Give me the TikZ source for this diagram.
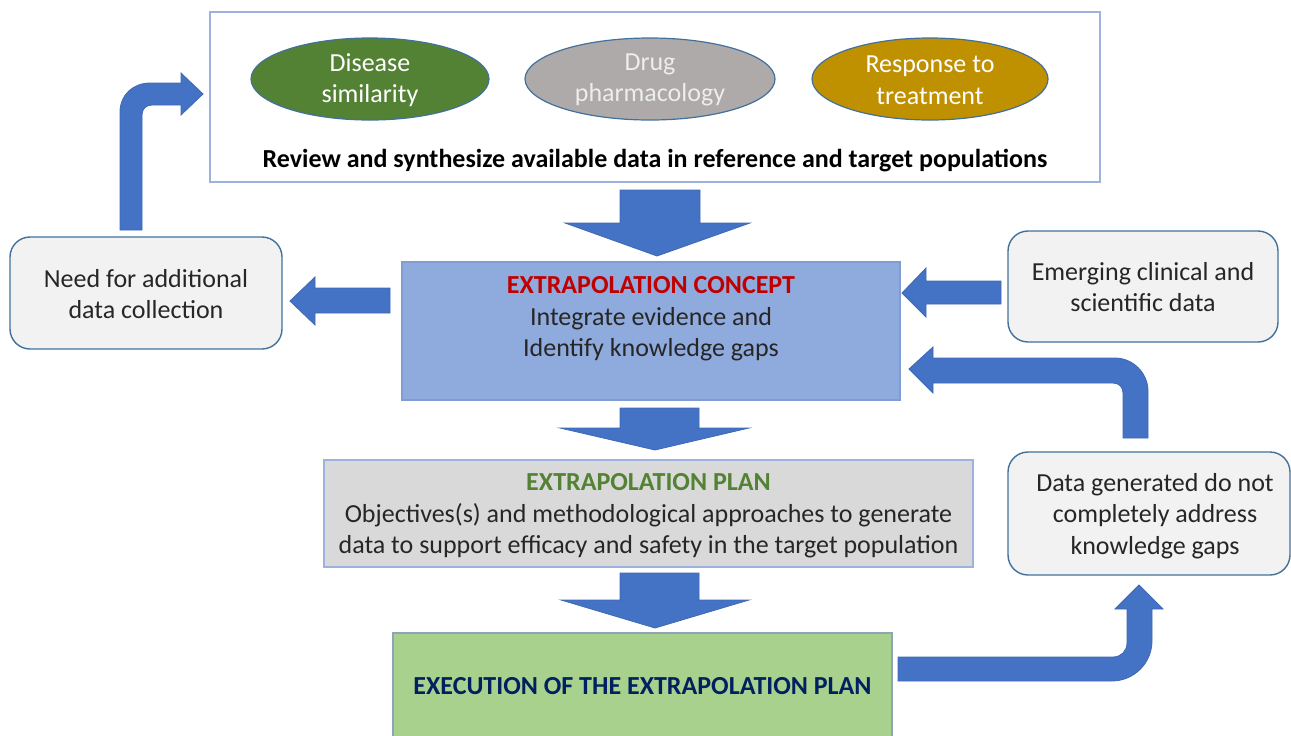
\documentclass[tikz,border=0pt]{standalone}
\usepackage{fontspec}
\setmainfont{Carlito}
\usetikzlibrary{shapes.geometric}
\definecolor{arrowblue}{HTML}{4472C4}
\definecolor{arrowedge}{HTML}{3F69B5}
\definecolor{outlineblue}{HTML}{41719C}
\definecolor{lightedge}{HTML}{9DB3DE}
\definecolor{conceptfill}{HTML}{8FAADC}
\definecolor{conceptedge}{HTML}{7F9DD3}
\definecolor{planfill}{HTML}{D9D9D9}
\definecolor{execfill}{HTML}{A9D18E}
\definecolor{execedge}{HTML}{8FA5B5}
\definecolor{softgray}{HTML}{F2F2F2}
\definecolor{diseasegreen}{HTML}{548235}
\definecolor{druggray}{HTML}{AEAAAA}
\definecolor{druglabel}{HTML}{EDEDED}
\definecolor{responsegold}{HTML}{BF9000}
\definecolor{titlered}{HTML}{C00000}
\definecolor{titlegreen}{HTML}{548235}
\definecolor{titlenavy}{HTML}{002060}
\begin{document}
\begin{tikzpicture}[x=0.5pt,y=-0.5pt,
  txt/.style={font=\fontsize{13}{15.75}\selectfont, align=center, inner sep=0pt},
  plainbox/.style={draw, rectangle, line width=0.6pt},
  roundbox/.style={draw=outlineblue, fill=softgray, rectangle, rounded corners=10pt, line width=0.7pt},
  oval/.style={ellipse, draw=outlineblue, line width=0.6pt, inner sep=0pt},
  blockarrow/.style={fill=arrowblue, draw=arrowedge, line width=0.4pt, line join=miter}
]
\useasboundingbox (0,0) rectangle (1291,735);

% top review box
\node[plainbox, draw=lightedge, minimum width=445pt, minimum height=85pt] (review) at (655,97) {};
\node[oval, fill=diseasegreen, minimum width=119pt, minimum height=41pt] (disease) at (370,79) {};
\node[txt, text=white] (diseasetext) at (370,80) {Disease\\similarity};
\node[oval, fill=druggray, minimum width=125pt, minimum height=41pt] (drug) at (650,79) {};
\node[txt, text=druglabel] (drugtext) at (650,80) {Drug\\pharmacology};
\node[oval, fill=responsegold, minimum width=118pt, minimum height=41pt] (response) at (930,79) {};
\node[txt, text=white] (responsetext) at (930,80) {Response to\\treatment};
\node[txt, font=\fontsize{13}{15.75}\selectfont\bfseries] (reviewtext) at (655,161) {Review and synthesize available data in reference and target populations};

% concept box
\node[plainbox, draw=conceptedge, fill=conceptfill, minimum width=249pt, minimum height=69pt] (concept) at (651,331) {};
\node[txt, text=black!85] (concepttext) at (651,319) {\textcolor{titlered}{\bfseries EXTRAPOLATION CONCEPT}\\Integrate evidence and\\Identify knowledge gaps};

% plan box
\node[plainbox, draw=lightedge, fill=planfill, minimum width=324.5pt, minimum height=53.5pt] (plan) at (648.5,513.5) {};
\node[txt, text=black!85] (plantext) at (648.5,516) {\textcolor{titlegreen}{\bfseries EXTRAPOLATION PLAN}\\Objectives(s) and methodological approaches to generate\\data to support efficacy and safety in the target population};

% execution box
\node[plainbox, draw=execedge, fill=execfill, minimum width=249.5pt, minimum height=60pt] (exec) at (642.5,693) {};
\node[txt, text=titlenavy, font=\fontsize{13}{15.75}\selectfont\bfseries] (exectext) at (642.5,686) {EXECUTION OF THE EXTRAPOLATION PLAN};

% side boxes
\node[roundbox, minimum width=136pt, minimum height=56pt] (need) at (146,293) {};
\node[txt, text=black!85] (needtext) at (146,294) {Need for additional\\data collection};
\node[roundbox, minimum width=135pt, minimum height=55.5pt] (emerging) at (1143,286.5) {};
\node[txt, text=black!85] (emergingtext) at (1143,287) {Emerging clinical and\\scientific data};
\node[roundbox, minimum width=141pt, minimum height=61.5pt] (gaps) at (1149,513.5) {};
\node[txt, text=black!85] (gapstext) at (1155,516) {Data generated do not\\completely address\\knowledge gaps};

% down arrows
\draw[blockarrow] (620,190) -- (700,190) -- (700,223) -- (750,223) -- (657,256) -- (565,223) -- (620,223) -- cycle;
\draw[blockarrow] (620,408) -- (699,408) -- (699,428) -- (749,428) -- (655,450) -- (560,428) -- (620,428) -- cycle;
\draw[blockarrow] (620,573) -- (699,573) -- (699,600) -- (749,600) -- (655,628) -- (561,600) -- (620,600) -- cycle;

% concept -> need
\draw[blockarrow] (390,288) -- (315,288) -- (315,277) -- (290,301) -- (315,325) -- (315,313) -- (390,313) -- cycle;
% emerging -> concept
\draw[blockarrow] (1001,281) -- (926,281) -- (926,268) -- (902,293) -- (926,317) -- (926,304) -- (1001,304) -- cycle;

% need -> review (bent up-right)
\draw[blockarrow] (120,230) -- (120,112) .. controls (120,95) and (133,83) .. (150,83) -- (181,83) -- (181,73) -- (203,94)
  -- (181,115) -- (181,105) -- (152,105) .. controls (146,105) and (142,109) .. (142,115) -- (142,230) -- cycle;

% gaps -> concept (bent up-left)
\draw[blockarrow] (1123,438) -- (1123,393) .. controls (1123,387) and (1119,383) .. (1113,383) -- (933,383) -- (933,393)
  -- (909,369) -- (933,347) -- (933,358) -- (1115,358) .. controls (1133,358) and (1148,373) .. (1148,391) -- (1148,438) -- cycle;

% exec -> gaps (bent right-up)
\draw[blockarrow] (898,657) -- (1113,657) .. controls (1121,657) and (1127,651) .. (1127,643) -- (1127,609) -- (1115,609)
  -- (1139,585) -- (1163,609) -- (1152,609) -- (1152,641) .. controls (1152,663) and (1134,681) .. (1112,681) -- (898,681) -- cycle;
\end{tikzpicture}
\end{document}
